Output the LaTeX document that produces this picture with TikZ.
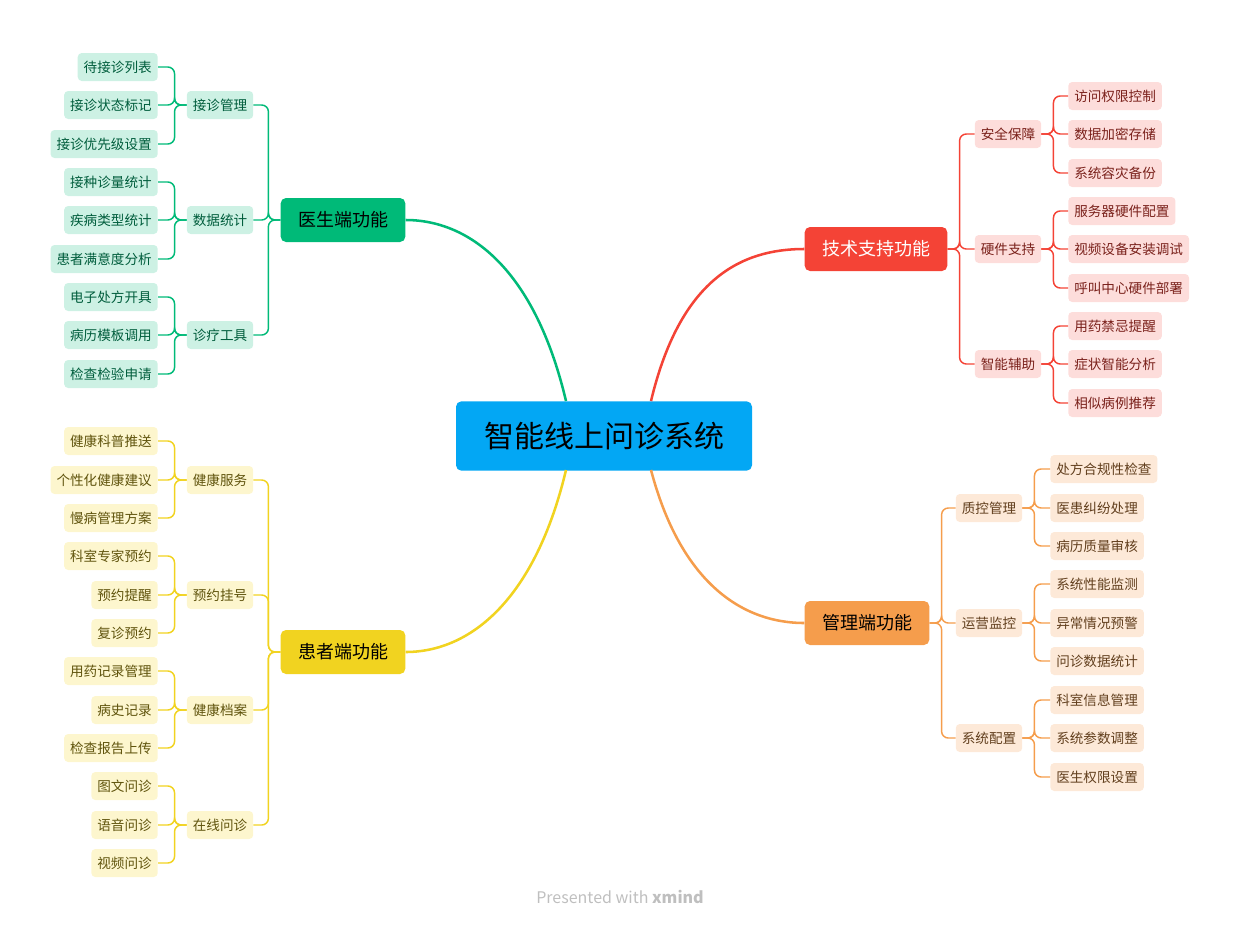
\documentclass[tikz,border=0pt]{standalone}
\usepackage{fontspec}
\setmainfont{Noto Sans CJK SC}
\usetikzlibrary{positioning}
\definecolor{ctr}{RGB}{3,167,244}
\definecolor{docc}{RGB}{0,186,120}
\definecolor{patc}{RGB}{241,211,32}
\definecolor{tecc}{RGB}{244,67,54}
\definecolor{magc}{RGB}{245,157,76}
\definecolor{docl}{RGB}{205,241,228}
\definecolor{patl}{RGB}{253,246,206}
\definecolor{tecl}{RGB}{253,221,219}
\definecolor{magl}{RGB}{253,233,216}
\begin{document}
\begin{tikzpicture}[
        x=0.75pt, y=-0.75pt,
        mainbox/.style={rectangle, rounded corners=4pt, minimum height=33pt, inner xsep=13pt, font=\fontsize{13.5}{15}\selectfont},
        subbox/.style={rectangle, rounded corners=3pt, minimum height=21pt, inner xsep=4.5pt, font=\fontsize{10.2}{12}\selectfont},
        leaf/.style={subbox},
        mline/.style={line width=1.9pt},
        sline/.style={line width=1.1pt, rounded corners=5pt}
    ]
        \useasboundingbox (0,0) rectangle (1242,929);

        % center
        \node[rectangle, rounded corners=4pt, fill=ctr, minimum width=222pt, minimum height=52pt,
              font=\fontsize{22.5}{25}\selectfont] (root) at (604,436) {智能线上问诊系统};
        \coordinate (rtl) at (566,401);
        \coordinate (rtr) at (651,401);
        \coordinate (rbl) at (566,470);
        \coordinate (rbr) at (651,470);

        % main branches
        \node[mainbox, fill=docc] (doc) at (343,220) {医生端功能};
        \node[mainbox, fill=patc] (pat) at (343,652) {患者端功能};
        \node[mainbox, fill=tecc, text=white] (tec) at (876,249) {技术支持功能};
        \node[mainbox, fill=magc] (mag) at (867,623) {管理端功能};

        \draw[mline, docc] (rtl) .. controls (535,270) and (470,220) .. (doc.east);
        \draw[mline, patc] (rbl) .. controls (535,600) and (470,652) .. (pat.east);
        \draw[mline, tecc] (rtr) .. controls (680,280) and (740,249) .. (tec.west);
        \draw[mline, magc] (rbr) .. controls (680,580) and (740,623) .. (mag.west);

        % doctor side
        \foreach \n/\t/\y in {d1/接诊管理/105, d2/数据统计/220, d3/诊疗工具/335}
            \node[subbox, fill=docl, text=docc!50!black] (\n) at (220,\y) {\t};
        \foreach \n/\t/\y/\p in {d11/待接诊列表/67/d1, d12/接诊状态标记/105/d1, d13/接诊优先级设置/144/d1,
                                 d21/接种诊量统计/182/d2, d22/疾病类型统计/220/d2, d23/患者满意度分析/259/d2,
                                 d31/电子处方开具/297/d3, d32/病历模板调用/335/d3, d33/检查检验申请/374/d3} {
            \node[leaf, fill=docl, text=docc!50!black, anchor=east] (\n) at (158,\y) {\t};
            \draw[sline, docc] (\p.west) -- ([xshift=-9pt]\p.west) |- (\n.east);
        }
        \foreach \n in {d1,d2,d3}
            \draw[sline, docc] (doc.west) -- ([xshift=-9pt]doc.west) |- (\n.east);

        % patient side
        \foreach \n/\t/\y in {p1/健康服务/480, p2/预约挂号/595, p3/健康档案/710, p4/在线问诊/825}
            \node[subbox, fill=patl, text=patc!40!black] (\n) at (220,\y) {\t};
        \foreach \n/\t/\y/\p in {p11/健康科普推送/441/p1, p12/个性化健康建议/480/p1, p13/慢病管理方案/518/p1,
                                 p21/科室专家预约/556/p2, p22/预约提醒/595/p2, p23/复诊预约/633/p2,
                                 p31/用药记录管理/671/p3, p32/病史记录/710/p3, p33/检查报告上传/748/p3,
                                 p41/图文问诊/786/p4, p42/语音问诊/825/p4, p43/视频问诊/863/p4} {
            \node[leaf, fill=patl, text=patc!40!black, anchor=east] (\n) at (158,\y) {\t};
            \draw[sline, patc] (\p.west) -- ([xshift=-9pt]\p.west) |- (\n.east);
        }
        \foreach \n in {p1,p2,p3,p4}
            \draw[sline, patc] (pat.west) -- ([xshift=-9pt]pat.west) |- (\n.east);

        % tech side
        \foreach \n/\t/\y in {t1/安全保障/134, t2/硬件支持/249, t3/智能辅助/364}
            \node[subbox, fill=tecl, text=tecc!50!black] (\n) at (1008,\y) {\t};
        \foreach \n/\t/\y/\p in {t11/访问权限控制/96/t1, t12/数据加密存储/134/t1, t13/系统容灾备份/173/t1,
                                 t21/服务器硬件配置/211/t2, t22/视频设备安装调试/249/t2, t23/呼叫中心硬件部署/288/t2,
                                 t31/用药禁忌提醒/326/t3, t32/症状智能分析/364/t3, t33/相似病例推荐/403/t3} {
            \node[leaf, fill=tecl, text=tecc!50!black, anchor=west] (\n) at (1068,\y) {\t};
            \draw[sline, tecc] (\p.east) -- ([xshift=9pt]\p.east) |- (\n.west);
        }
        \foreach \n in {t1,t2,t3}
            \draw[sline, tecc] (tec.east) -- ([xshift=9pt]tec.east) |- (\n.west);

        % management side
        \foreach \n/\t/\y in {m1/质控管理/508, m2/运营监控/623, m3/系统配置/738}
            \node[subbox, fill=magl, text=magc!40!black] (\n) at (989,\y) {\t};
        \foreach \n/\t/\y/\p in {m11/处方合规性检查/469/m1, m12/医患纠纷处理/508/m1, m13/病历质量审核/546/m1,
                                 m21/系统性能监测/584/m2, m22/异常情况预警/623/m2, m23/问诊数据统计/661/m2,
                                 m31/科室信息管理/700/m3, m32/系统参数调整/738/m3, m33/医生权限设置/777/m3} {
            \node[leaf, fill=magl, text=magc!40!black, anchor=west] (\n) at (1050,\y) {\t};
            \draw[sline, magc] (\p.east) -- ([xshift=9pt]\p.east) |- (\n.west);
        }
        \foreach \n in {m1,m2,m3}
            \draw[sline, magc] (mag.east) -- ([xshift=9pt]mag.east) |- (\n.west);

        % footer
        \node[text=black!25, font=\fontsize{12}{14}\selectfont] (foot) at (620,897) {Presented with \textbf{xmind}};
    \end{tikzpicture}
\end{document}
